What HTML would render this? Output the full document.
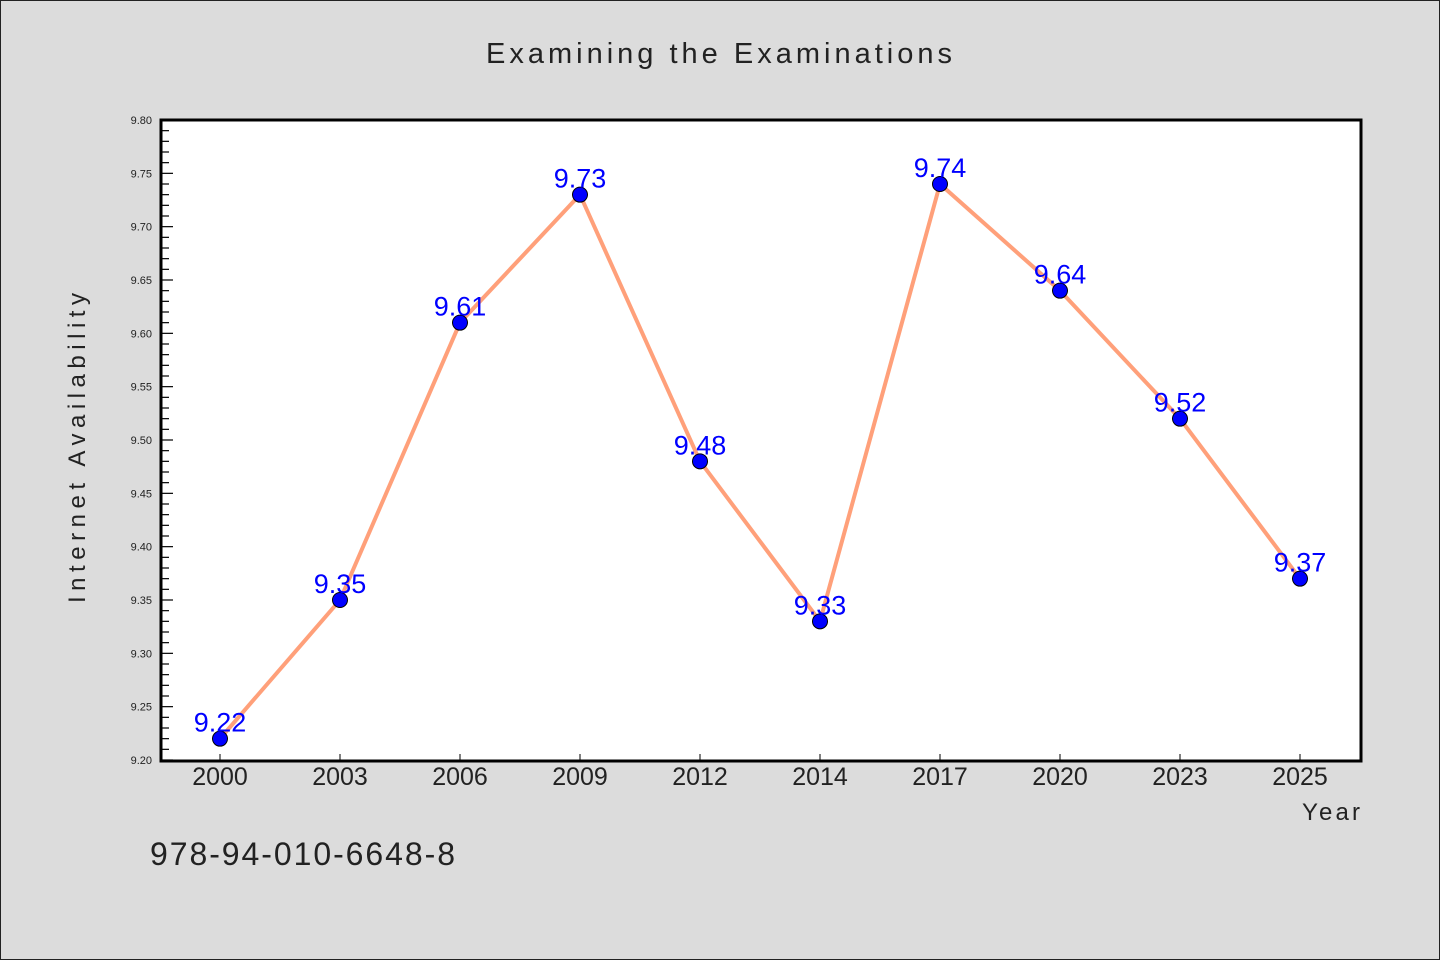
<!DOCTYPE html>
<html><head><meta charset="utf-8"><style>
html,body{margin:0;padding:0;background:#dcdcdc;}
svg{display:block;}
text{font-family:"WenQuanYi Zen Hei","Liberation Sans",sans-serif;}
</style></head><body>
<svg id="chart" width="1440" height="960" viewBox="0 0 1440 960">
<rect x="0.5" y="0.5" width="1439" height="959" fill="#dcdcdc" stroke="#222" stroke-width="1"/>
<text x="719" y="63" font-size="29" text-anchor="middle" fill="#222" textLength="466">Examining the Examinations</text>
<rect x="161" y="120" width="1200" height="641" fill="#fff"/>
<g id="yaxis"></g>
<g id="xaxis"></g>
<g id="series"></g>
<rect x="161" y="120" width="1200" height="641" fill="none" stroke="#000" stroke-width="3"/>
<text transform="translate(85,448) rotate(-90)" font-size="24" text-anchor="middle" fill="#222" textLength="310">Internet Availability</text>
<text x="1360" y="820" font-size="24" text-anchor="end" fill="#222" textLength="58">Year</text>
<text x="150" y="865" font-size="32" fill="#222" textLength="305">978-94-010-6648-8</text>
</svg>
<script>
const categories = ["2000","2003","2006","2009","2012","2014","2017","2020","2023","2025"];
const values = [9.22,9.35,9.61,9.73,9.48,9.33,9.74,9.64,9.52,9.37];
const yTickLabels = ["9.20","9.25","9.30","9.35","9.40","9.45","9.50","9.55","9.60","9.65","9.70","9.75","9.80"];
const yMin = 9.20, yMax = 9.80;
const SVGNS = "http://www.w3.org/2000/svg";
const plotLeft = 161, plotTop = 120, plotBottom = 760;
function yScale(v){ return plotBottom - (v - yMin) / (yMax - yMin) * (plotBottom - plotTop); }
function xScale(i){ return 220 + i * 120; }
function mk(tag, attrs, parent){ const e = document.createElementNS(SVGNS, tag); for (const k in attrs) e.setAttribute(k, attrs[k]); parent.appendChild(e); return e; }
const ya = document.getElementById('yaxis');
for (let k = 0; k <= 60; k++) {
  const v = yMin + k * 0.01;
  const y = yScale(v);
  const major = k % 5 === 0;
  const t = mk('line', {x1: plotLeft, x2: plotLeft + (major ? 12 : 8), y1: y, y2: y, stroke: '#000', 'stroke-width': 1.2}, ya);
  
  
}
yTickLabels.forEach(function(lbl){
  const y = yScale(parseFloat(lbl));
  const t = mk('text', {x: 152, y: y + 4, 'font-size': 11, 'text-anchor': 'end', fill: '#222'}, ya);
  t.textContent = lbl;
  
  
});
const xa = document.getElementById('xaxis');
categories.forEach(function(c, i){
  const x = xScale(i);
  const tk = mk('line', {x1: x, x2: x, y1: plotBottom, y2: plotBottom - 6, stroke: '#000', 'stroke-width': 1}, xa);
  
  
  const t = mk('text', {x: x, y: 785, 'font-size': 25, 'text-anchor': 'middle', fill: '#222'}, xa);
  t.textContent = c;
  
  
});
const ser = document.getElementById('series');
const pts = values.map(function(v, i){ return xScale(i) + ',' + yScale(v); }).join(' ');
const pl = mk('polyline', {points: pts, fill: 'none', stroke: '#ffa07a', 'stroke-width': 4, 'stroke-linejoin': 'round'}, ser);


values.forEach(function(v, i){
  const c = mk('circle', {cx: xScale(i), cy: yScale(v), r: 7.5, fill: '#0000ff', stroke: '#000', 'stroke-width': 1}, ser);
  
  
});
values.forEach(function(v, i){
  const t = mk('text', {x: xScale(i), y: yScale(v) - 7, 'font-size': 27, 'text-anchor': 'middle', fill: '#0000ff'}, ser);
  t.textContent = v.toFixed(2);
  
  
});
</script>
</body></html>
